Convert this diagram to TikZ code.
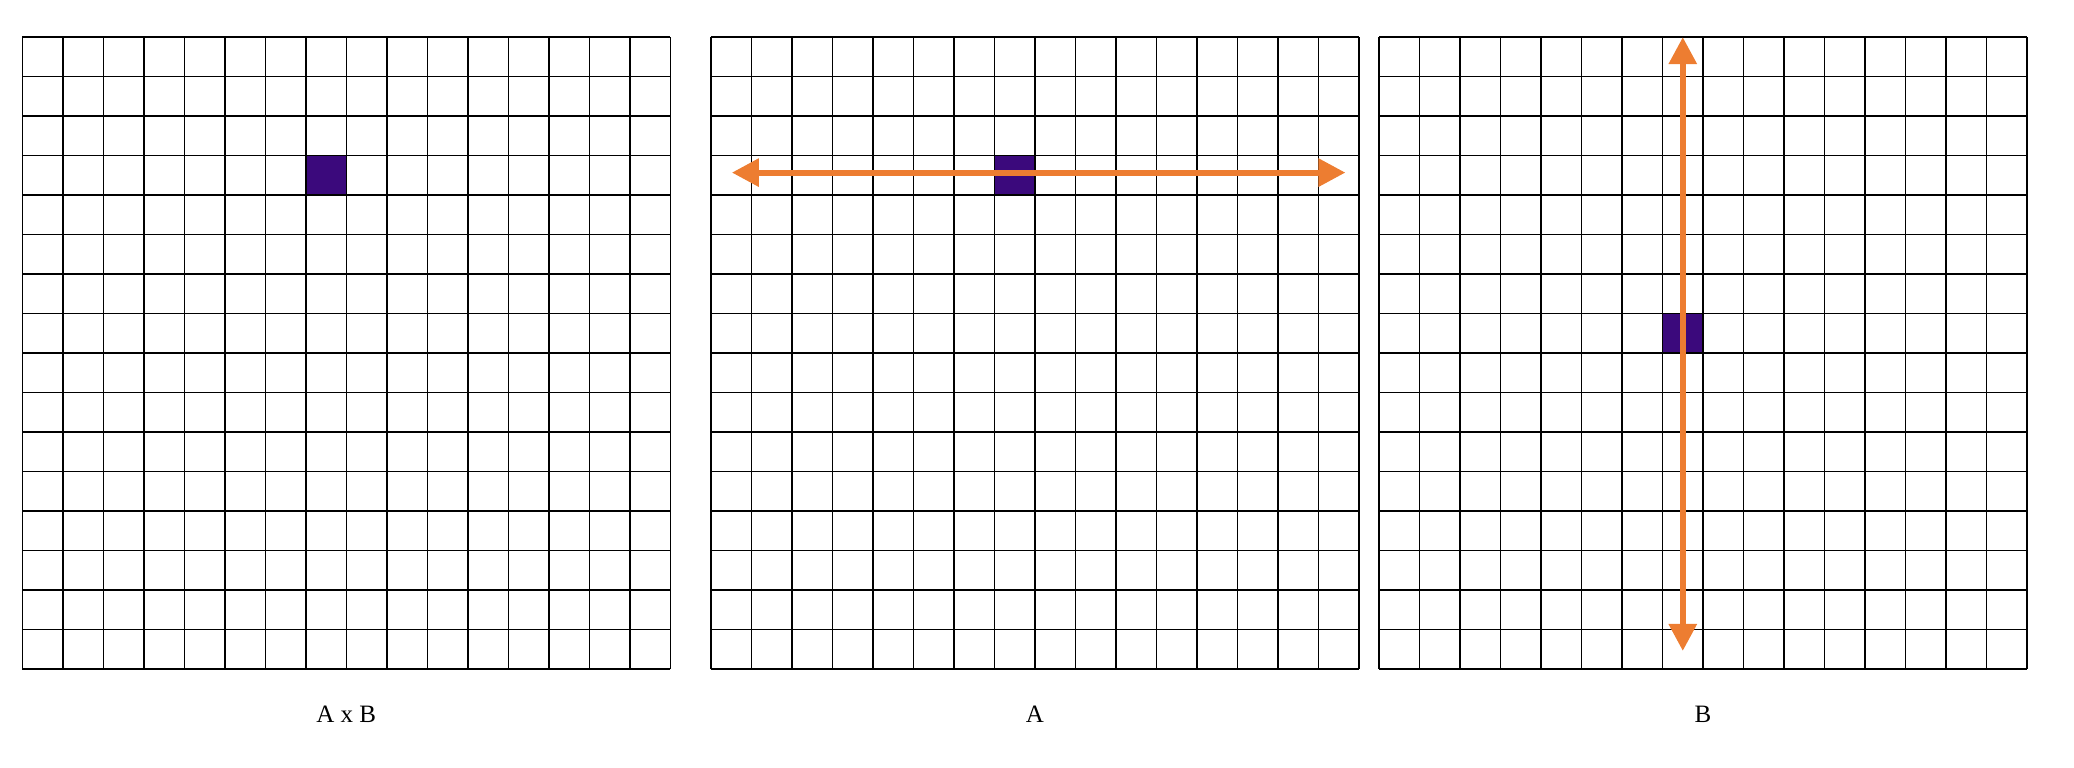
\documentclass[tikz,border=0pt]{standalone}
\usepackage{fontspec}
\setmainfont{Liberation Serif}
\usepackage{xcolor}
\usetikzlibrary{positioning}
\usetikzlibrary{arrows.meta,calc}

\definecolor{cellpurple}{RGB}{59,9,124}
\definecolor{scanorange}{RGB}{237,125,49}

\tikzset{
  gridline/.style={line width=1.5pt, black},
  marked/.style={fill=cellpurple, draw=black, line width=1.5pt},
  scan/.style={scanorange, line width=6pt,
    {Triangle[length=27pt,width=27pt]}-{Triangle[length=27pt,width=27pt]}},
  caption/.style={anchor=base, font=\fontsize{25}{30}\selectfont}
}

\begin{document}
\begin{tikzpicture}[x=40.5pt, y=39.5pt]
\useasboundingbox (-0.551,-2.499) rectangle (50.66,16.94);

% the three 16 x 16 grids
\foreach \gx in {0,17,33.5}{
  \foreach \i in {0,...,16}{
    \draw[gridline] (\gx+\i,0) -- (\gx+\i,16);
    \draw[gridline] (\gx,\i) -- (\gx+16,\i);
  }
}

% marked cells
\draw[marked] (7,12) rectangle (8,13);
\draw[marked] (24,12) rectangle (25,13);
\draw[marked] (40.5,8) rectangle (41.5,9);

% scan directions
\coordinate (rowW) at (17.52,12.57);
\coordinate (rowE) at (32.67,12.57);
\coordinate (colN) at (41,16);
\coordinate (colS) at (41,0.46);
\draw[scan] (rowW) -- (rowE);
\draw[scan] (colN) -- (colS);

\node[caption] (prodlabel) at (8,-1.35) {A x B};
\node[caption] (alabel) at (25,-1.35) {A};
\node[caption] (blabel) at (41.5,-1.35) {B};

  %\draw[scan] (colN) -- (colS);
\end{tikzpicture}
\end{document}
